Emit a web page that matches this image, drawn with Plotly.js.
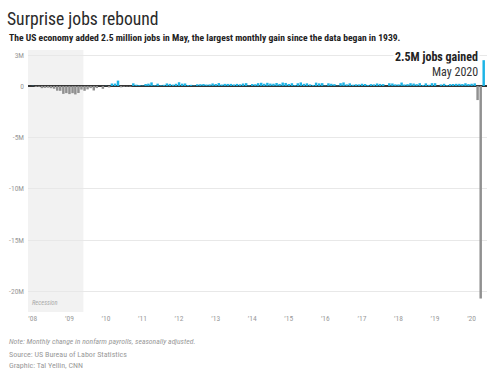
<!DOCTYPE html>
<html>
<head>
<meta charset="utf-8">
<script src="https://cdn.plot.ly/plotly-3.0.1.min.js"></script>
<style>
html,body{margin:0;padding:0;background:#fff;}
#chart{width:500px;height:377px;}
</style>
</head>
<body>
<div id="chart"></div>
<script>
// Monthly change in nonfarm payrolls (thousands), Jan 2008 - May 2020
const startYear = 2008;
const jobs2008 = [17, -85, -79, -215, -186, -169, -216, -270, -459, -473, -770, -695];
const jobs2009 = [-791, -703, -823, -686, -351, -470, -329, -212, -440, -205, -5, -279];
const jobs2010 = [14, -144, 239, 232, 522, -133, -70, -51, -59, 257, 123, 88];
const jobs2011 = [42, 188, 225, 346, 77, 225, 69, 110, 246, 202, 132, 211];
const jobs2012 = [360, 226, 243, 96, 110, 44, 163, 172, 188, 138, 154, 243];
const jobs2013 = [189, 280, 141, 203, 199, 201, 149, 202, 164, 237, 274, 45];
const jobs2014 = [187, 168, 272, 310, 213, 306, 232, 218, 286, 200, 331, 292];
const jobs2015 = [195, 266, 86, 262, 344, 206, 254, 157, 100, 321, 252, 274];
const jobs2016 = [45, 258, 211, 173, 36, 272, 343, 158, 254, 122, 162, 155];
const jobs2017 = [216, 189, 97, 180, 157, 240, 198, 182, 6, 264, 242, 158];
const jobs2018 = [155, 332, 144, 173, 268, 235, 174, 272, 100, 254, 116, 270];
const jobs2019 = [269, 1, 147, 210, 85, 182, 194, 207, 208, 185, 261, 184];
const jobs2020 = [214, 251, -1373, -20687, 2509];

const recessionEnd = '2009-05-20';
const yTickVals = [3, 0, -5, -10, -15, -20];
const yTickText = ['3M', '0', '-5M', '-10M', '-15M', '-20M'];
const xTickVals = ['2008-01-01','2009-01-01','2010-01-01','2011-01-01','2012-01-01','2013-01-01','2014-01-01','2015-01-01','2016-01-01','2017-01-01','2018-01-01','2019-01-01','2020-01-01'];
const xTickText = ['’08','’09','’10','’11','’12','’13','’14','’15','’16','’17','’18','’19','’20'];

const allYears = [jobs2008, jobs2009, jobs2010, jobs2011, jobs2012, jobs2013, jobs2014, jobs2015, jobs2016, jobs2017, jobs2018, jobs2019, jobs2020];
const dates = [], values = [];
allYears.forEach((arr, yi) => {
  arr.forEach((v, mi) => {
    const m = String(mi + 1).padStart(2, '0');
    dates.push((startYear + yi) + '-' + m + '-01');
    values.push(v / 1000);
  });
});

const BLUE = '#1db4e6', GRAY = '#909090';
const colors = values.map(v => v >= 0 ? BLUE : GRAY);

const FONT = '"Roboto Condensed", "Roboto", sans-serif';

const trace = {
  type: 'bar',
  x: dates,
  y: values,
  marker: {color: colors, line: {width: 0}},
  hoverinfo: 'x+y'
};

const W = 459, H = 262; // plot area
function px(xp){ return (xp - 28) / W; }
function py(yp){ return (312 - yp) / H; }

const layout = {
  width: 500, height: 377,
  margin: {l: 28, r: 13, t: 50, b: 65, pad: 0},
  paper_bgcolor: '#fff', plot_bgcolor: '#fff',
  bargap: 0.12,
  showlegend: false,
  font: {family: FONT, color: '#999'},
  title: {
    text: 'Surprise jobs rebound',
    font: {family: FONT, size: 17.6, color: '#2a2a2a'},
    xref: 'container', yref: 'container',
    x: 7/500, xanchor: 'left',
    y: 1 - 19/377, yanchor: 'middle'
  },
  xaxis: {
    type: 'date',
    range: ['2007-11-14', '2020-06-03'],
    tickmode: 'array', tickvals: xTickVals, ticktext: xTickText,
    showgrid: false, zeroline: false, showline: false, ticks: '',
    tickfont: {family: FONT, size: 7.5, color: '#9a9a9a'},
    fixedrange: true
  },
  yaxis: {
    range: [-22, 3.5],
    tickmode: 'array', tickvals: yTickVals, ticktext: yTickText,
    showgrid: true, gridcolor: '#e8e8e8', gridwidth: 1,
    zeroline: true, zerolinecolor: '#333', zerolinewidth: 1.5,
    showline: false, ticks: '',
    tickfont: {family: FONT, size: 7.5, color: '#9a9a9a'},
    ticklabelstandoff: 3,
    fixedrange: true
  },
  shapes: [{
    type: 'rect', layer: 'below',
    xref: 'x', yref: 'paper',
    x0: '2007-11-14', x1: recessionEnd, y0: 0, y1: 1,
    fillcolor: '#f2f2f2', line: {width: 0}
  }],
  annotations: [
    {text: '<b>The US economy added 2.5 million jobs in May, the largest monthly gain since the data began in 1939.</b>',
     xref: 'paper', yref: 'paper', x: px(7), y: py(38), xanchor: 'left', yanchor: 'middle',
     showarrow: false, font: {family: FONT, size: 9.6, color: '#222'}},
    {text: '<b>2.5M jobs gained</b>',
     xref: 'paper', yref: 'paper', x: px(480), y: py(57), xanchor: 'right', yanchor: 'middle',
     showarrow: false, bgcolor: '#fff', borderpad: 1, font: {family: FONT, size: 12, color: '#222'}},
    {text: 'May 2020',
     xref: 'paper', yref: 'paper', x: px(480), y: py(72), xanchor: 'right', yanchor: 'middle',
     showarrow: false, bgcolor: '#fff', borderpad: 1, font: {family: FONT, size: 12, color: '#333'}},
    {text: '<i>Recession</i>',
     xref: 'paper', yref: 'paper', x: px(30), y: py(303), xanchor: 'left', yanchor: 'middle',
     showarrow: false, font: {family: FONT, size: 6.5, color: '#aaa'}},
    {text: '<i>Note: Monthly change in nonfarm payrolls, seasonally adjusted.</i>',
     xref: 'paper', yref: 'paper', x: px(7), y: py(341), xanchor: 'left', yanchor: 'middle',
     showarrow: false, font: {family: FONT, size: 7.7, color: '#999'}},
    {text: 'Source: US Bureau of Labor Statistics',
     xref: 'paper', yref: 'paper', x: px(7), y: py(355), xanchor: 'left', yanchor: 'middle',
     showarrow: false, font: {family: FONT, size: 8, color: '#999'}},
    {text: 'Graphic: Tal Yellin, CNN',
     xref: 'paper', yref: 'paper', x: px(7), y: py(365), xanchor: 'left', yanchor: 'middle',
     showarrow: false, font: {family: FONT, size: 8, color: '#999'}}
  ]
};

Plotly.newPlot('chart', [trace], layout, {displayModeBar: false, staticPlot: true});
</script>
</body>
</html>
